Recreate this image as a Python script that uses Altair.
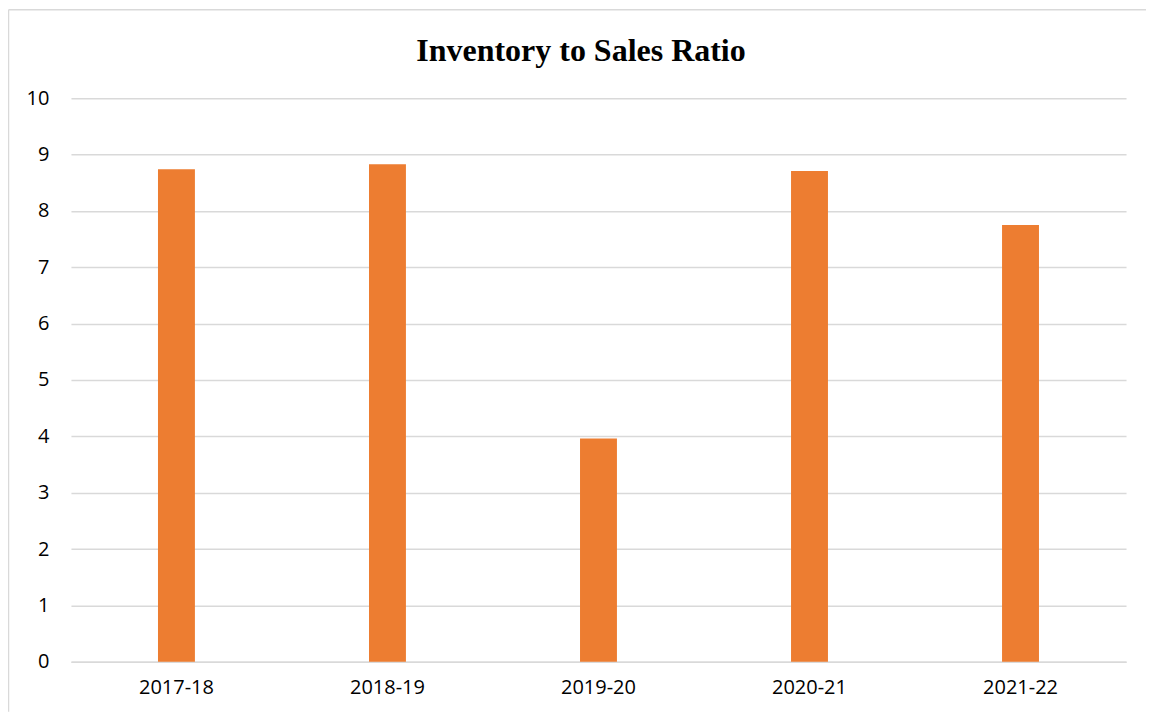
import altair as alt
import pandas as pd

years = ["2017-18", "2018-19", "2019-20", "2020-21", "2021-22"]
ratios = [8.74, 8.83, 3.96, 8.71, 7.75]
chart_title = "Inventory to Sales Ratio"

df = pd.DataFrame({"year": years, "ratio": ratios})

LABEL_FONT = "Open Sans"
BORDER = "#d9d9d9"

one = pd.DataFrame({"a": [0]})

frame_top = alt.Chart(one).mark_rule(color=BORDER, strokeWidth=1.5).encode(
    x=alt.value(-62.5), x2=alt.value(1076), y=alt.value(-88.5),
)
frame_left = alt.Chart(one).mark_rule(color=BORDER, strokeWidth=1.5).encode(
    x=alt.value(-62.5), y=alt.value(-88.5), y2=alt.value(614),
)

title = alt.Chart(pd.DataFrame({"t": [chart_title]})).mark_text(
    font="Liberation Serif", fontSize=32, fontWeight="bold", color="#000000",
    align="center", baseline="alphabetic"
).encode(
    text="t:N", x=alt.value(510.5), y=alt.value(-37),
)

bars = alt.Chart(df).mark_bar(color="#ED7D31").encode(
    x=alt.X("year:N", sort=years, title=None,
            scale=alt.Scale(paddingInner=0.825, paddingOuter=0.4125),
            axis=alt.Axis(labelAngle=0, labelFont=LABEL_FONT, labelFontSize=20,
                          labelColor="#000000", labelPadding=16, ticks=False,
                          domainColor=BORDER, domainWidth=1.5, grid=False)),
    y=alt.Y("ratio:Q", title=None,
            scale=alt.Scale(domain=[0, 10]),
            axis=alt.Axis(values=list(range(0, 11)), labelFont=LABEL_FONT,
                          labelFontSize=20, labelColor="#000000", labelPadding=22,
                          ticks=False, domain=False, gridColor=BORDER,
                          gridWidth=1.5)),
)

chart = alt.layer(frame_top, frame_left, title, bars).properties(
    width=1056, height=564,
    autosize=alt.AutoSizeParams(type="none"),
    padding={"left": 63, "top": 90, "right": 20, "bottom": 50},
).configure_view(strokeWidth=0)

chart.save("out.html", embed_options={"renderer": "svg", "actions": False})
